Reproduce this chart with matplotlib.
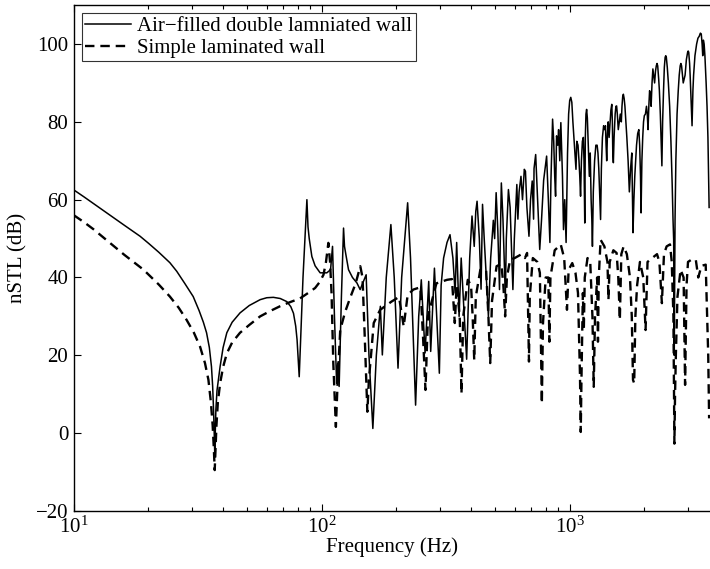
import matplotlib
matplotlib.use('Agg')
import matplotlib.pyplot as plt
from matplotlib.ticker import LogLocator, FixedLocator

plt.rcParams['font.family'] = ['Liberation Serif', 'DejaVu Serif']
plt.rcParams['mathtext.fontset'] = 'stix'

# air-filled double laminated wall
double_f = [10, 11, 12, 14, 16, 18.5, 20, 22, 24.4, 26, 28, 30.3, 32, 33.3, 34.3, 35.2, 35.9,
            36.3, 36.6, 36.8, 37.0, 37.2, 37.4, 37.8, 38.9, 40, 41.4, 43.5, 46.8, 51, 56.4, 60,
            63.8, 68, 72.3, 75, 76.9, 78.5, 79.5, 80.5, 81.1, 84, 87.1, 88, 89, 91.2, 94, 98.5,
            104.8, 108.5, 110.5, 112.5, 114.8, 116, 117.5, 120, 122.4, 123.5, 125, 128.2, 133,
            138.6, 142.8, 151, 155, 160.7, 166, 172.3, 175.5, 182, 190, 196, 203, 210, 222, 228,
            239, 246, 252, 261, 270, 275, 284.7, 298, 303, 310, 320, 329, 338, 345, 350, 358, 365,
            372, 384, 395, 403.6, 412, 418, 423, 432, 439, 445, 452, 470, 480, 492, 498, 505, 513,
            521, 525, 530, 538, 550, 555, 566, 575, 582, 590, 598, 612, 618, 625, 636, 645, 656,
            663, 672, 685, 695, 706, 715, 718, 729, 740, 757, 770, 785, 807, 820, 832, 840, 853,
            862, 870, 877, 885, 895, 902, 912, 921, 935, 944, 955, 967, 980, 990, 1000, 1010,
            1020, 1030, 1040, 1050, 1060, 1068, 1080, 1090, 1098, 1106, 1115, 1125, 1135, 1142,
            1150, 1156, 1163, 1170, 1178, 1185, 1200, 1210, 1220, 1228, 1235, 1245, 1260, 1275,
            1290, 1300, 1310, 1320, 1332, 1342, 1355, 1370, 1382, 1394, 1402, 1410, 1420, 1430,
            1442, 1455, 1466, 1478, 1486, 1492, 1500, 1510, 1525, 1536, 1546, 1556, 1570, 1585,
            1600, 1615, 1625, 1636, 1646, 1658, 1670, 1685, 1700, 1720, 1740, 1760, 1780, 1790,
            1800, 1815, 1830, 1845, 1860, 1880, 1900, 1915, 1930, 1940, 1955, 1970, 1985, 2000,
            2020, 2040, 2055, 2070, 2085, 2100, 2115, 2130, 2148, 2165, 2180, 2200, 2218, 2235,
            2250, 2264, 2285, 2300, 2320, 2340, 2354, 2370, 2390, 2408, 2426, 2440, 2453, 2475,
            2500, 2530, 2560, 2590, 2610, 2626, 2640, 2660, 2680, 2710, 2740, 2765, 2790, 2808,
            2826, 2850, 2870, 2895, 2920, 2955, 2990, 3005, 3020, 3045, 3060, 3085, 3115, 3140,
            3160, 3200, 3250, 3290, 3330, 3365, 3393, 3420, 3440, 3460, 3485, 3510, 3550, 3580,
            3610, 3650]
double_db = [62.5, 60.7, 59.0, 56.0, 53.4, 50.6, 48.8, 46.5, 43.8, 41.6, 38.5, 35.1, 31.5, 28.5,
             25.8, 22, 17.1, 12, 6, 1, -5, 1, 6, 11, 17.1, 22, 25.8, 28.5, 30.9, 32.8, 34.3,
             34.8, 34.9, 34.6, 33.8, 32.5, 30.8, 27.5, 24, 18, 14.5, 40, 60, 53, 50, 45.4, 43,
             41.2, 41.2, 42, 48, 30, 12.8, 18, 12, 35, 52.7, 48, 46, 42, 40,
             38.6, 36.9, 40.7, 20, 1.2, 20, 32.6, 20.1, 40, 53.6, 40, 16.7, 40, 59.2, 45,
             7.2, 30, 39.4, 20.6, 39, 21, 42.4, 15.4, 38, 45, 49, 51, 45, 36, 49, 30, 45,
             35, 19, 45, 55.8, 48, 57, 59.6, 50, 37, 58.8, 50, 30, 45, 54.7, 50, 61.8, 52,
             36.9, 50, 64.3, 55, 35.1, 50, 62.6, 58, 48, 36.9, 50, 63.9, 55, 62, 66, 60, 67.8,
             67.3, 58, 50.6, 60, 64.8, 55, 68, 71.6, 62, 47.2, 55, 65, 71.2, 60, 49, 65, 80.7,
             75, 66, 60.9, 76.4, 74, 78, 70, 79.8, 66, 52.3, 60, 49, 72, 82, 85.5, 86.3,
             85, 80, 76, 72, 67.8, 75, 74, 70, 66, 60.9, 70, 75, 76, 70,
             54, 76, 82, 83.2, 81, 76, 66, 72, 60, 55, 48, 62, 70, 74,
             74, 72, 68, 62, 54.9, 68, 76, 79, 78, 79, 74, 70, 77, 80,
             76, 80, 83, 84.5, 80, 72, 69.5, 76, 82, 84, 84.1, 82, 78, 80,
             82, 80, 84, 86.5, 87.1, 86, 84, 80, 76, 70, 62, 68, 72, 62,
             51.5, 60, 66, 70, 74, 77, 78, 74, 66, 56.6, 70, 76, 80, 81.6,
             82, 84, 82, 78, 84, 88, 87, 84, 90, 93.6, 92, 90, 93, 94.4,
             95, 94.4, 91, 88, 82, 74, 68.7, 80, 88, 94, 96.6, 97, 96.6, 94,
             90, 84, 75, 64, 55, 49.7, 20, 55, 70, 82, 88, 92, 94.4, 95,
             94.4, 92, 90, 91, 92, 96, 97.9, 98.2, 97.9, 95, 92, 86, 79, 88,
             92, 97, 100, 101.5, 102, 102.8, 102.6, 100, 97, 101, 100, 97, 90, 84,
             76, 58]

# simple laminated wall
simple_f = [10, 11, 12, 13.97, 16, 19.1, 22, 24.4, 26.5, 28.5, 30.5, 32.3, 33.8, 34.9, 35.7,
            36.3, 36.7, 37.0, 37.3, 37.6, 38.1, 38.9, 40, 41.4, 43.5, 46.8, 51, 56.4, 62, 67.8,
            74, 81.6, 88, 94, 98, 101.6, 104, 106.3, 108, 109.5, 111.3, 114, 116, 118.7, 124,
            130, 137, 143, 146, 149, 152.7, 155, 158.5, 162, 172, 191, 205, 214, 222, 234, 250,
            256, 262, 268, 290, 320, 335, 344, 350, 360, 366, 372, 388, 400, 406, 412, 418, 436,
            460, 470, 478, 486, 507, 530, 540, 549, 558, 575, 600, 620, 640, 660, 673, 680, 685,
            690, 710, 740, 758, 765, 772, 780, 800, 820, 828, 836, 870, 920, 950, 975, 990, 1024,
            1055, 1080, 1100, 1108, 1116, 1130, 1140, 1150, 1180, 1210, 1235, 1250, 1265, 1290,
            1300, 1310, 1332, 1380, 1420, 1433, 1450, 1500, 1546, 1570, 1593, 1615, 1650, 1700,
            1750, 1780, 1800, 1820, 1840, 1870, 1920, 1980, 2023, 2060, 2150, 2250, 2300, 2354,
            2400, 2460, 2538, 2580, 2620, 2644, 2660, 2680, 2720, 2800, 2880, 2920, 2960, 3000,
            3100, 3225, 3300, 3400, 3536, 3620, 3650]
simple_db = [56, 54.2, 52.4, 48.9, 45.8, 42, 38.2, 35.1, 32.2, 29.1, 25.8, 22.2, 18, 13.7, 8,
             2, -4, -9.5, -4, 2, 8, 12.8, 17, 20.5, 23.3, 25.8, 27.8, 30, 31.4, 32.6,
             33.6, 34.6, 36, 37.3, 38.8, 40.7, 44, 48.9, 44, 36, 18, 1.6, 14, 26.5, 31,
             34.7, 38.5, 42.9, 40, 25, 5.5, 14, 21, 28.3, 31.7, 33.8, 35, 27.4, 35.5, 36.9, 37.5,
             25, 11.1, 30, 38.5, 39.4, 39.6, 28.3, 38, 30, 10.2, 30, 39.4, 38, 30, 18.8, 35, 42,
             42, 30, 18, 34, 42.9, 43.5, 38, 30, 40, 44.6, 45, 45.5, 46, 45, 46.3, 30, 18.4,
             35, 45, 44, 41.2, 25, 7.6, 28, 40, 40, 23.5, 40, 47, 48.5, 45, 31.7, 42, 43.7,
             41.2, 36, 15, 0.3, 15, 36, 26.5, 40, 45, 44, 30, 11.9, 30, 40,
             23.5, 40, 49.7, 48, 44, 34.3, 44, 47, 46.3, 40, 29.1, 46, 48, 46,
             40, 30, 13.7, 12.8, 30, 38, 44, 40, 26.5, 44, 45, 46, 44, 33.4,
             46, 48, 48.5, 44, 30, -2.7, 10, 20, 35, 42, 40, 12.4, 38, 44,
             44.6, 44.6, 40, 43, 43.3, 20, 3.8]

fig = plt.figure(figsize=(7.10, 5.69), dpi=100)
ax = fig.add_axes([0.104, 0.102, 0.896, 0.889])

ax.semilogx(double_f, double_db, color='black', linewidth=1.1, linestyle='-',
            label='Air\u2212filled double lamniated wall')
ax.semilogx(simple_f, simple_db, color='black', linewidth=1.7, linestyle=(0, (4, 2.5)),
            label='Simple laminated wall')

ax.set_xlim(10, 3680)
ax.set_ylim(-20, 110)
ax.yaxis.set_major_locator(FixedLocator([-20, 0, 20, 40, 60, 80, 100]))
ax.xaxis.set_major_locator(LogLocator(base=10))
ax.xaxis.set_minor_locator(LogLocator(base=10, subs=range(2, 10)))

ax.tick_params(which='both', direction='in', top=True, right=False, labelsize=15, width=0.8)
ax.tick_params(which='major', length=5, pad=4)
ax.tick_params(which='minor', length=3)
ax.spines['right'].set_visible(False)
for s in ['left', 'bottom', 'top']:
    ax.spines[s].set_linewidth(1.0)

ax.set_xlabel('Frequency (Hz)', fontsize=15, labelpad=0)
ax.set_ylabel('nSTL (dB)', fontsize=15, labelpad=6)

leg = ax.legend(loc='upper left', fontsize=15, handlelength=2.2, borderaxespad=0.4,
                frameon=True, fancybox=False, borderpad=0.15, labelspacing=0.1,
                handletextpad=0.3)
leg.get_frame().set_edgecolor('black')
leg.get_frame().set_linewidth(0.8)

fig.savefig('out.png', dpi=100)
